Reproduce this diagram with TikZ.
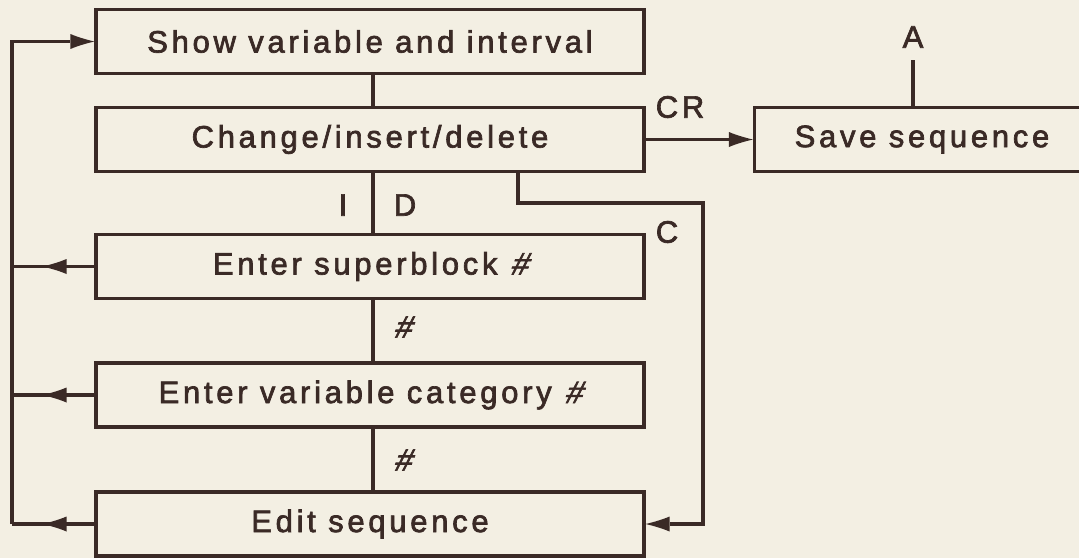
\documentclass[tikz,border=0pt]{standalone}
\usepackage{fontspec}
\setmainfont{Liberation Sans}[LetterSpace=12,FakeBold=2.2]
\newfontfamily\hashfont{Liberation Sans}[FakeSlant=0.3,FakeBold=2.2]
\newcommand{\hsh}{{\hashfont\#}}
\usetikzlibrary{arrows.meta,decorations.markings}
\definecolor{ink}{RGB}{58,42,38}
\definecolor{paper}{RGB}{243,239,227}
\tikzset{tip/.tip={Latex[length=24pt,width=15pt,line width=0pt]}}

\begin{document}
\begin{tikzpicture}[x=1pt,y=-1pt,line width=3.1pt,color=ink,
  font=\fontsize{31}{36}\selectfont,
  box/.style={draw,minimum width=548pt,minimum height=64pt,inner sep=0pt},
  arr/.style={-tip},
  backarr/.style={postaction={decorate},decoration={markings,
    mark=at position 0.63 with {\arrow{tip}}}}]
\useasboundingbox (0,0) rectangle (1079,558);
\fill[paper] (0,0) rectangle (1079,558);
\clip (0,0) rectangle (1079,558);

% boxes
\node[box] (show) at (370,41.5) {Show variable and interval};
\node[box] (chg) at (370,139.5) {Change/insert/delete};
\node[box,minimum width=335pt] (save) at (922,139.5) {Save sequence};
\node[box] (sb) at (370,266.5) {Enter superblock \hsh};
\node[box] (vc) at (370,395) {Enter variable category \hsh};
\node[box] (ed) at (370,524) {Edit sequence};

% labels on the lines
\node (lI) at (343,205) {I}; \node (lD) at (405,205) {D};
\node (lh1) at (402,327) {\hsh}; \node (lh2) at (402,460) {\hsh};
\node (lCR) at (680,107) {CR}; \node (lC) at (667,232) {C};
\node (lA) at (913,37) {A};

% main column
\draw ([xshift=3pt]show.south) -- ([xshift=3pt]chg.north);
\draw ([xshift=3pt]chg.south) -- ([xshift=3pt]sb.north);
\draw ([xshift=3pt]sb.south) -- ([xshift=3pt]vc.north);
\draw ([xshift=3pt]vc.south) -- ([xshift=3pt]ed.north);

% CR and C branches
\draw[arr] (chg.east) -- (save.west);
\coordinate (atop) at (913,60); \draw (atop) -- (atop |- save.north);
\coordinate (cR) at (703,203);
\draw[arr] ([xshift=148pt]chg.south) |- (cR) |- (ed.east);

% loop back to the top
\coordinate (lt) at (12,41.5); \coordinate (lb) at (12,524);
\draw[arr] (lb) -- (lt) -- (show.west);
\foreach \b in {sb,vc,ed} \draw[backarr] (\b.west) -- (\b.west -| lt);
\end{tikzpicture}
\end{document}
